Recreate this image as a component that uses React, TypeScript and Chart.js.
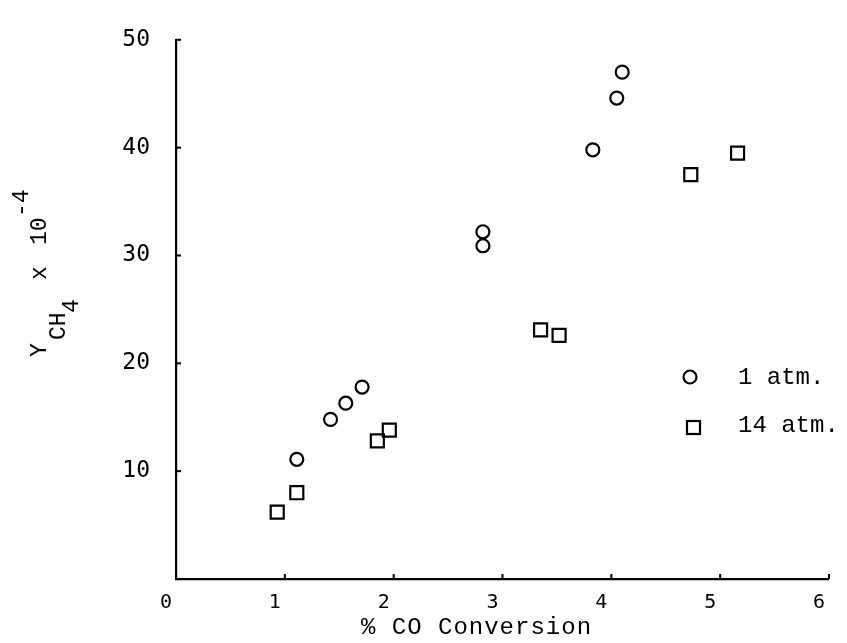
import React, { useEffect, useRef } from "react";
import { Chart, registerables } from "chart.js";

Chart.register(...registerables);

// Data
const oneAtmX = [1.11, 1.42, 1.56, 1.71, 2.82, 2.82, 3.83, 4.05, 4.1];
const oneAtmY = [11.1, 14.8, 16.3, 17.8, 32.2, 30.9, 39.8, 44.6, 47.0];
const fourteenAtmX = [0.93, 1.11, 1.85, 1.96, 3.35, 3.52, 4.73, 5.16];
const fourteenAtmY = [6.2, 8.0, 12.8, 13.8, 23.1, 22.6, 37.5, 39.5];

const xTicks = [0, 1, 2, 3, 4, 5, 6];
const yTicks = [10, 20, 30, 40, 50];
const seriesLabels = ["1 atm.", "14 atm."];
const xTitle = "% CO Conversion";

const MONO = "'Liberation Mono', 'Courier New', monospace";
const SANSMONO = "'DejaVu Sans Mono', monospace";

const overlay = {
  id: "overlay",
  afterDraw(chart: any) {
    const ctx = chart.ctx as CanvasRenderingContext2D;
    const xs = chart.scales.x;
    const ys = chart.scales.y;
    const area = chart.chartArea;
    ctx.save();
    ctx.strokeStyle = "#000";
    ctx.fillStyle = "#000";
    ctx.lineWidth = 2;
    // inward tick marks
    yTicks.forEach((v) => {
      const py = ys.getPixelForValue(v);
      ctx.beginPath();
      ctx.moveTo(area.left, py);
      ctx.lineTo(area.left + 5, py);
      ctx.stroke();
    });
    xTicks.slice(1).forEach((v) => {
      const px = xs.getPixelForValue(v);
      ctx.beginPath();
      ctx.moveTo(px, area.bottom);
      ctx.lineTo(px, area.bottom - 5);
      ctx.stroke();
    });

    // legend
    ctx.lineWidth = 2.2;
    ctx.beginPath();
    ctx.arc(690, 377, 6.5, 0, Math.PI * 2);
    ctx.stroke();
    ctx.strokeRect(687, 421, 13, 13);
    ctx.font = `24px ${MONO}`;
    ctx.textAlign = "left";
    ctx.textBaseline = "middle";
    ctx.fillText(seriesLabels[0], 738, 378);
    ctx.fillText(seriesLabels[1], 738, 426);

    // x title
    (ctx as any).letterSpacing = "1px";
    ctx.font = `24px ${MONO}`;
    ctx.textBaseline = "middle";
    ctx.fillText(xTitle, 361, 628);
    (ctx as any).letterSpacing = "0px";

    // y title (rotated) : Y_{CH_4} x 10^{-4}
    ctx.translate(46, 357);
    ctx.rotate(-Math.PI / 2);
    ctx.textBaseline = "alphabetic";
    ctx.font = `23px ${MONO}`;
    ctx.fillText("Y", 0, 0);
    ctx.fillText("CH", 17, 19);
    ctx.fillText("4", 44, 32);
    ctx.fillText("x", 77, 0);
    ctx.fillText("10", 112, 0);
    ctx.fillText("-4", 140, -18);
    ctx.restore();
  },
};

export default function App() {
  const ref = useRef<HTMLCanvasElement | null>(null);
  useEffect(() => {
    document.body.style.margin = "0";
    const canvas = ref.current!;
    const chart = new Chart(canvas, {
      type: "scatter",
      data: {
        datasets: [
          {
            label: seriesLabels[0],
            data: oneAtmX.map((x, i) => ({ x, y: oneAtmY[i] })),
            pointStyle: "circle",
            pointRadius: 6.5,
            pointBorderWidth: 2.2,
            borderColor: "#000",
            backgroundColor: "rgba(255,255,255,0)",
          },
          {
            label: seriesLabels[1],
            data: fourteenAtmX.map((x, i) => ({ x, y: fourteenAtmY[i] })),
            pointStyle: "rect",
            pointRadius: 9.2,
            pointBorderWidth: 2.2,
            borderColor: "#000",
            backgroundColor: "rgba(255,255,255,0)",
          },
        ],
      },
      options: {
        responsive: false,
        animation: false,
        layout: { padding: { left: 0, top: 29, right: 14, bottom: 0 } },
        plugins: { legend: { display: false }, tooltip: { enabled: false } },
        scales: {
          x: {
            type: "linear",
            min: 0,
            max: 6,
            afterFit: (s: any) => {
              s.height = 64;
            },
            afterBuildTicks: (s: any) => {
              s.ticks = xTicks.map((v) => ({ value: v }));
            },
            grid: { display: false, drawTicks: false },
            border: { display: true, color: "#000", width: 2.2 },
            ticks: {
              padding: 12,
              labelOffset: -10,
              color: "#000",
              font: { family: SANSMONO, size: 20 },
              maxRotation: 0,
              callback: (v: any) => String(v),
            },
          },
          y: {
            type: "linear",
            min: 0,
            max: 50,
            afterFit: (s: any) => {
              s.width = 176;
            },
            afterBuildTicks: (s: any) => {
              s.ticks = [0, ...yTicks].map((v) => ({ value: v }));
            },
            grid: { display: false, drawTicks: false },
            border: { display: true, color: "#000", width: 2.2 },
            ticks: {
              padding: 26,
              color: "#000",
              font: { family: SANSMONO, size: 23 },
              callback: (v: any) => (v === 0 ? "" : String(v)),
            },
          },
        },
      },
      plugins: [overlay],
    });
    return () => chart.destroy();
  }, []);
  return (
    <div style={{ width: 847, height: 643, background: "#fff" }}>
      <canvas ref={ref} width={847} height={643} />
    </div>
  );
}
